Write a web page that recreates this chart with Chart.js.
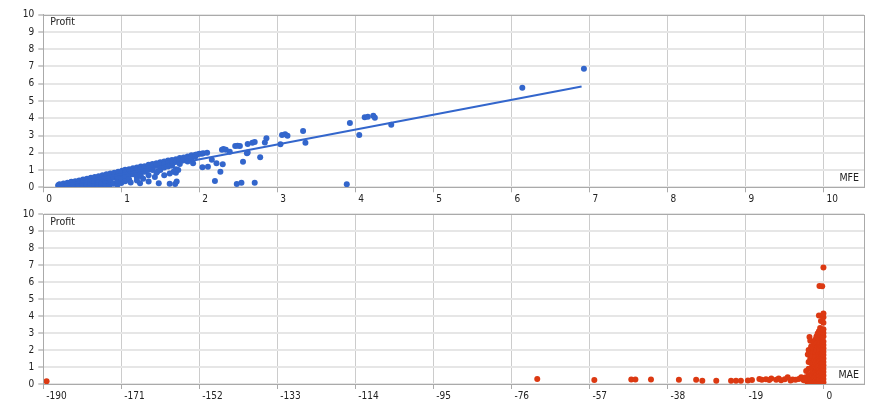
<!DOCTYPE html>
<html>
<head>
<meta charset="utf-8">
<script src="https://cdn.jsdelivr.net/npm/chart.js@4.4.1/dist/chart.umd.min.js"></script>
<style>
  body { margin: 0; background: #fff; }
  canvas { position: absolute; left: 0; }
  #mfechart { top: 0; }
  #maechart { top: 204px; }
</style>
</head>
<body>
<canvas id="mfechart" width="878" height="204"></canvas>
<canvas id="maechart" width="878" height="204"></canvas>
<script>
  // Setup Block
  const yName = 'Profit';
  const mfeName = 'MFE';
  const maeName = 'MAE';
  const profitTicks = [0, 1, 2, 3, 4, 5, 6, 7, 8, 9, 10];
  const mfeTicks = [0, 1, 2, 3, 4, 5, 6, 7, 8, 9, 10];
  const maeTicks = [-190, -171, -152, -133, -114, -95, -76, -57, -38, -19, 0];

  // [MFE, Profit]
  const mfePoints = [
    [0.19,0.10],[0.2,0.15],[0.21,0.18],[0.25,0.08],[0.25,0.14],[0.26,0.22],
    [0.3,0.10],[0.3,0.20],[0.31,0.27],[0.35,0.08],[0.35,0.16],[0.35,0.28],[0.36,0.32],
    [0.4,0.10],[0.4,0.22],[0.41,0.35],[0.45,0.07],[0.45,0.18],[0.45,0.30],[0.46,0.40],
    [0.5,0.12],[0.5,0.25],[0.5,0.38],[0.51,0.45],[0.55,0.08],[0.55,0.20],[0.55,0.33],[0.56,0.50],
    [0.6,0.14],[0.6,0.28],[0.6,0.42],[0.61,0.55],[0.65,0.09],[0.65,0.22],[0.65,0.36],[0.66,0.60],
    [0.7,0.15],[0.7,0.30],[0.7,0.45],[0.71,0.64],[0.75,0.10],[0.75,0.25],[0.75,0.52],[0.76,0.70],
    [0.8,0.18],[0.8,0.38],[0.8,0.58],[0.81,0.75],[0.85,0.12],[0.85,0.30],[0.86,0.45],[0.86,0.80],
    [0.9,0.20],[0.9,0.55],[0.9,0.70],[0.91,0.85],[0.95,0.15],[0.95,0.40],[0.95,0.62],[0.96,0.90],
    [1.0,0.25],[1.0,0.50],[1.0,0.78],[1.01,0.96],
    [1.05,1.02],[1.05,0.85],[1.05,0.60],[1.05,0.35],[1.1,1.05],[1.1,0.90],[1.1,0.70],[1.1,0.45],
    [1.12,0.28],[1.15,1.10],[1.15,0.95],[1.15,0.75],[1.2,1.15],[1.2,1.00],[1.2,0.80],[1.2,0.55],
    [1.2,0.40],[1.24,0.23],[1.25,1.20],[1.25,1.05],[1.25,0.85],[1.25,0.65],[1.28,0.50],
    [1.3,1.22],[1.3,1.10],[1.3,0.90],[1.34,1.00],[1.35,1.30],[1.35,1.12],[1.35,0.70],[1.35,0.33],
    [1.4,1.35],[1.4,1.20],[1.4,1.00],[1.43,0.60],[1.45,1.40],[1.45,1.25],[1.46,0.90],[1.45,0.85],
    [1.48,0.23],[1.5,1.45],[1.5,1.30],[1.5,1.00],[1.5,1.10],[1.55,1.50],[1.55,1.35],[1.55,1.15],
    [1.55,0.70],[1.6,1.55],[1.6,1.40],[1.6,1.20],[1.62,0.80],[1.62,0.20],[1.65,1.58],[1.65,1.45],
    [1.65,1.25],[1.67,0.90],[1.69,0.19],[1.7,1.62],[1.7,1.50],[1.7,1.05],[1.7,0.85],[1.71,0.33],
    [1.73,1.00],[1.75,1.70],[1.75,1.55],[1.75,1.35],[1.8,1.72],[1.8,1.60],[1.85,1.78],[1.85,1.65],
    [1.85,1.50],[1.9,1.85],[1.9,1.58],[1.92,1.39],[1.95,1.88],[1.95,1.78],[1.97,1.90],[2.0,1.95],
    [2.03,1.95],[2.05,1.98],[2.1,2.00],[2.04,1.16],[2.11,1.19],[2.16,1.60],[2.22,1.39],[2.3,1.33],
    [2.27,0.90],[2.2,0.37],[2.29,2.18],[2.34,2.18],[2.31,2.22],[2.39,2.06],[2.48,0.19],[2.54,0.27],
    [2.71,0.27],[2.56,1.48],[2.61,1.97],[2.62,2.01],[2.78,1.74],[2.46,2.39],[2.49,2.41],[2.52,2.39],
    [2.62,2.51],[2.68,2.58],[2.71,2.62],[2.84,2.60],[2.86,2.84],[3.04,2.49],[3.06,3.03],[3.10,3.07],
    [3.13,2.99],[3.33,3.26],[3.36,2.58],[3.89,0.17],[3.93,3.73],[4.05,3.03],[4.12,4.06],[4.16,4.09],
    [4.23,4.15],[4.25,4.03],[4.46,3.63],[6.14,5.77],[6.93,6.87]
  ];

  // trend line through the MFE cloud
  const trendMfe = [0.19, 6.9];
  const trendProfit = [0.06, 5.84];

  // [MAE, Profit]
  const maePoints = [
    [-189.2,0.16],[-69.7,0.29],[-55.8,0.23],[-46.8,0.27],[-45.8,0.27],[-42.0,0.27],[-35.2,0.25],
    [-31.0,0.25],[-29.5,0.19],[-26.1,0.19],[-22.5,0.19],[-21.3,0.19],[-20.1,0.19],[-18.4,0.20],
    [-17.4,0.23],[-15.6,0.30],[-15.0,0.25],[-14.0,0.28],[-13.2,0.23],[-12.7,0.33],[-11.5,0.25],
    [-10.9,0.33],[-10.3,0.22],[-9.4,0.28],[-8.7,0.39],[-8.0,0.20],[-7.5,0.27],[-6.8,0.25],
    [-6.0,0.30],[-5.4,0.39],[-5.0,0.35],[-4.8,0.22],[-4.5,0.30],[-4.3,0.40],[-4.2,0.77],[-4.0,0.15],
    [-3.8,1.73],[-3.8,0.25],[-3.6,0.50],[-3.6,0.90],[-3.6,1.30],[-3.6,2.00],
    [-3.4,2.77],[-3.4,0.15],[-3.2,2.54],[-3.2,1.49],[-3.2,0.30],[-3.0,0.60],[-3.0,1.50],[-3.0,1.80],
    [-3.0,2.20],[-2.9,0.20],[-2.9,0.90],[-2.9,1.20],[-2.6,1.62],[-2.6,0.10],[-2.6,0.50],
    [-2.5,0.70],[-2.5,0.95],[-2.5,1.25],[-2.5,1.90],[-2.5,2.10],[-2.4,2.45],[-2.4,0.30],
    [-2.2,0.15],[-2.2,0.40],[-2.2,0.60],[-2.2,1.00],[-2.2,1.40],[-2.0,0.90],[-2.0,1.60],[-2.0,2.30],
    [-2.0,2.60],[-1.9,0.20],[-1.9,0.45],[-1.9,0.70],[-1.9,1.25],[-1.9,1.90],
    [-1.7,0.80],[-1.7,1.40],[-1.7,2.00],[-1.7,2.40],[-1.7,2.80],
    [-1.6,0.10],[-1.6,0.35],[-1.6,0.55],[-1.6,0.90],[-1.6,1.15],[-1.4,2.97],[-1.4,2.20],
    [-1.3,0.20],[-1.3,0.40],[-1.3,0.60],[-1.3,0.80],[-1.3,1.00],[-1.3,1.30],[-1.3,1.70],
    [-1.1,0.20],[-1.1,0.50],[-1.1,0.80],[-1.1,1.50],[-1.1,1.80],[-1.1,2.30],[-1.1,2.60],[-1.1,3.10],
    [-1.1,4.03],[-0.97,0.10],[-0.97,0.30],[-0.97,0.50],[-0.97,0.70],[-0.97,0.90],[-0.97,1.10],
    [-0.97,1.35],[-0.97,1.60],[-0.97,2.00],[-0.97,5.76],[-0.8,2.40],[-0.8,2.90],[-0.8,3.30],
    [-0.6,0.15],[-0.6,0.35],[-0.6,0.55],[-0.6,0.75],
    [-0.6,0.95],[-0.6,1.20],[-0.6,1.40],[-0.6,1.60],[-0.6,1.80],[-0.6,2.20],[-0.6,3.70],
    [-0.3,0.05],[-0.3,0.25],[-0.3,0.45],[-0.3,0.65],[-0.3,0.85],[-0.3,1.05],[-0.3,1.25],[-0.3,1.45],
    [-0.3,1.65],[-0.3,1.85],[-0.3,2.05],[-0.3,2.40],[-0.3,2.77],[-0.3,5.75],
    [0,0.10],[0,0.30],[0,0.50],[0,0.70],[0,0.90],[0,1.10],[0,1.30],[0,1.50],[0,1.70],[0,1.90],
    [0,2.10],[0,2.30],[0,2.50],[0,2.80],[0,3.00],[0,3.22],[0,3.60],[0,3.93],[0,4.14],[0,6.86]
  ];

  const blue = '#3366cc';
  const red = '#dc3912';
  const font = { family: "'Liberation Sans Narrow', 'DejaVu Sans Condensed', sans-serif", size: 10 };

  // box around the plot + the axis names inside it
  const framePlugin = {
    id: 'frame',
    afterDraw(chart, args, opts) {
      const { ctx, chartArea: a } = chart;
      ctx.save();
      ctx.strokeStyle = '#aaaaaa';
      ctx.lineWidth = 1;
      ctx.strokeRect(Math.round(a.left) + 0.5, Math.round(a.top) + 0.5,
        Math.round(a.right) - Math.round(a.left), Math.round(a.bottom) - Math.round(a.top));
      ctx.fillStyle = '#222222';
      ctx.font = "10.5px 'Liberation Sans Narrow', 'DejaVu Sans Condensed', sans-serif";
      ctx.textBaseline = 'alphabetic';
      ctx.textAlign = 'left';
      ctx.fillText(yName, a.left + 7, a.top + 10.5);
      ctx.textAlign = 'right';
      ctx.fillText(opts.xName, a.right - 5, a.bottom - 6);
      ctx.restore();
    }
  };

  function makeConfig(datasets, xMin, xMax, xTicks, xName, padTop, padBottom) {
    return {
      type: 'scatter',
      data: { datasets: datasets },
      plugins: [framePlugin],
      options: {
        responsive: false,
        animation: false,
        devicePixelRatio: 1,
        layout: { padding: { left: 0, right: 14, top: padTop, bottom: padBottom } },
        plugins: {
          legend: { display: false },
          tooltip: { enabled: false },
          frame: { xName: xName }
        },
        scales: {
          x: {
            type: 'linear',
            min: xMin,
            max: xMax,
            afterBuildTicks: (scale) => { scale.ticks = xTicks.map(v => ({ value: v })); },
            afterFit: (scale) => { scale.height = 16.7; },
            grid: { color: '#cccccc', lineWidth: 1, tickLength: 5, tickColor: '#aaaaaa' },
            border: { display: true, color: '#aaaaaa' },
            ticks: { align: 'start', labelOffset: 3, padding: 1, color: '#222222', font: font, maxRotation: 0, autoSkip: false }
          },
          y: {
            min: 0,
            max: 10,
            afterBuildTicks: (scale) => { scale.ticks = profitTicks.map(v => ({ value: v })); },
            afterFit: (scale) => { scale.width = 43.3; },
            grid: { color: '#e6e6e6', lineWidth: 2, tickLength: 5, tickColor: '#cccccc' },
            border: { display: true, color: '#aaaaaa' },
            ticks: { padding: 4, color: '#222222', font: font }
          }
        }
      }
    };
  }

  // Config Block
  const config_mfe = makeConfig([
    {
      type: 'line',
      data: trendMfe.map((x, i) => ({ x: x, y: trendProfit[i] })),
      borderColor: blue,
      borderWidth: 2,
      pointRadius: 0
    },
    {
      data: mfePoints.map(p => ({ x: p[0], y: p[1] })),
      backgroundColor: blue,
      borderWidth: 0,
      pointRadius: 3,
      pointHoverRadius: 3
    }
  ], 0, 10.52, mfeTicks, mfeName, 14.7, 0);

  const config_mae = makeConfig([
    {
      data: maePoints.map(p => ({ x: p[0], y: p[1] })),
      backgroundColor: red,
      borderWidth: 0,
      pointRadius: 3,
      pointHoverRadius: 3
    }
  ], -190, 9.88, maeTicks, maeName, 7, 7.3);

  // Render Block
  const mfechart = new Chart(document.getElementById('mfechart'), config_mfe);
  const maechart = new Chart(document.getElementById('maechart'), config_mae);
</script>
</body>
</html>
